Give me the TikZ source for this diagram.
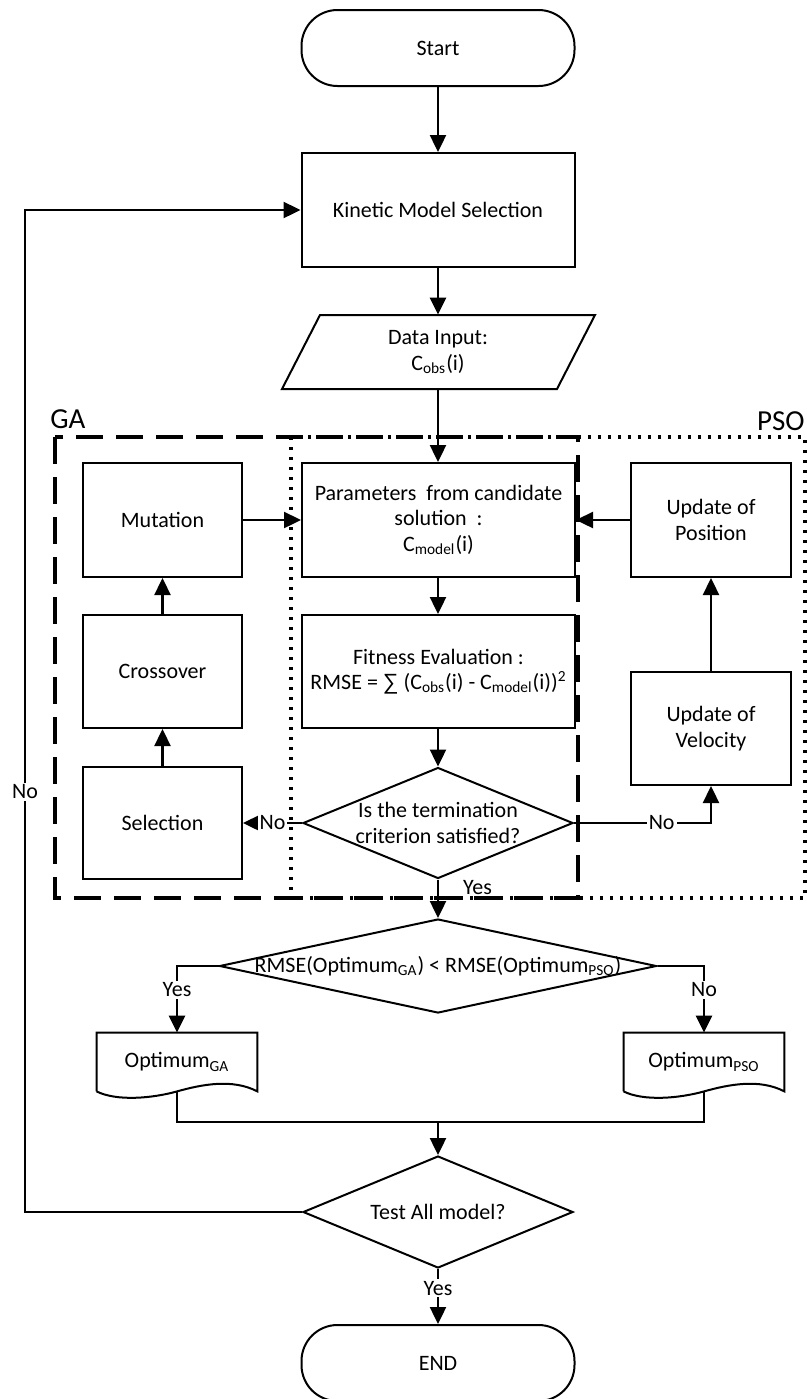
\documentclass[tikz,border=0pt]{standalone}
\usepackage{fontspec}
\setmainfont{Carlito}
\newfontfamily\symf{Liberation Sans}
\usetikzlibrary{arrows.meta,shapes.geometric}
\begin{document}
\begin{tikzpicture}[x=0.5pt,y=-0.5pt,
  font=\fontsize{11pt}{12.8pt}\selectfont,
  box/.style={draw, line width=1pt, rectangle, minimum width=136.5pt, minimum height=57pt, inner sep=0pt, align=center},
  sbox/.style={draw, line width=1pt, rectangle, minimum width=79.5pt, minimum height=57pt, inner sep=0pt, align=center},
  term/.style={draw, line width=1pt, rectangle, rounded corners=18pt, minimum width=136.5pt, minimum height=38pt, inner sep=0pt},
  dia/.style={draw, line width=1pt, diamond, inner sep=0pt},
  doc/.style={minimum width=80pt, minimum height=29pt, inner sep=0pt},
  conn/.style={line width=1.2pt, -{Triangle[length=8.5pt,width=8pt]}},
  wire/.style={line width=1.2pt},
  lbl/.style={fill=white, inner sep=1pt},
  region/.style={font=\fontsize{14.5pt}{17pt}\selectfont, inner sep=0pt},
]
\fill[white] (0,0) rectangle (807,1399);
\useasboundingbox (0,0) rectangle (807,1399);

% regions
\draw[line width=1.7pt, dash pattern=on 13.5pt off 6.5pt] (55,437) rectangle (578,898);
\draw[line width=1.7pt, dash pattern=on 1.5pt off 3.5pt] (291,437) rectangle (805,898);
\node[region, anchor=base west] (ga) at (50,428) {GA};
\node[region, anchor=base east] (pso) at (805,430) {PSO};

% main column
\node[term] (start) at (438,48) {Start};
\node[box] (kin) at (438,210) {Kinetic Model Selection};
\node[minimum width=120pt, minimum height=37pt, inner sep=0pt, align=center] (data) at (438,352) {Data Input:\\C\textsubscript{obs}(i)};
\draw[line width=1pt] (320,315) -- (595,315) -- (557,389) -- (282,389) -- cycle;
\node[box] (par) at (438.5,520) {Parameters\ \ from candidate\\solution\ \ :\\C\textsubscript{model}(i)};
\node[box, minimum height=56.5pt] (fit) at (438.5,671.5) {Fitness Evaluation :\\RMSE = {\symf ∑} (C\textsubscript{obs}(i) - C\textsubscript{model}(i))\textsuperscript{2}};
\node[dia, minimum width=135pt, minimum height=55.5pt] (dec) at (438,823) {};
\node[align=center] (dect) at (dec) {Is the termination\\criterion satisfied?};

% GA column
\node[sbox] (mut) at (162.5,520) {Mutation};
\node[sbox, minimum height=56.5pt] (cross) at (162.5,671.5) {Crossover};
\node[sbox, minimum height=56pt] (sel) at (162.5,823) {Selection};

% PSO column
\node[sbox, minimum width=80pt] (pos) at (711,520) {Update of\\Position};
\node[sbox, minimum width=80pt, minimum height=56.5pt] (vel) at (711,728.5) {Update of\\Velocity};

% comparison
\node[dia, minimum width=218.5pt, minimum height=47pt] (rmse) at (438,966) {};
\node (rmset) at (rmse) {RMSE(Optimum\textsubscript{GA}) < RMSE(Optimum\textsubscript{PSO})};

\node[doc] (dga) at (177,1062) {Optimum\textsubscript{GA}};
\node[doc] (dpso) at (704,1062) {Optimum\textsubscript{PSO}};
\foreach \d in {dga,dpso}{
  \draw[line width=1pt] (\d.south west) -- (\d.north west) -- (\d.north east) -- (\d.south east)
    .. controls +(-25,-13) and +(25,-7) .. (\d.south)
    .. controls +(-25,7) and +(20,10) .. (\d.south west);
}

\node[dia, minimum width=135pt, minimum height=56pt] (test) at (438,1212) {};
\node (testt) at (test) {Test All model?};
\node[term] (end) at (438,1363) {END};

% connectors
\draw[conn] (start) -- (kin);
\draw[conn] (kin) -- (data.north);
\draw[conn] (data.south) -- (par.north -| data.south);
\draw[conn] (par.south -| dec.north) -- (fit.north -| dec.north);
\draw[conn] (fit.south -| dec.north) -- (dec.north);
\draw[conn] (dec.west) -- node[lbl]{No} (sel.east);
\draw[conn] (sel) -- (cross);
\draw[conn] (cross) -- (mut);
\draw[conn] (mut.east) -- (par.west |- mut.east);
\draw[conn] (dec.east) -| node[lbl, pos=0.32]{No} (vel.south);
\draw[conn] (vel) -- (pos);
\draw[conn] (pos.west) -- (par.east |- pos.west);
\draw[conn] (dec.south) -- node[pos=0.2, anchor=west, inner sep=0pt, xshift=12pt]{Yes} (rmse.north);
\draw[conn] (rmse.west) -| node[lbl, pos=0.68]{Yes} (dga.north);
\draw[conn] (rmse.east) -| node[lbl, pos=0.68]{No} (dpso.north);
\coordinate (mrg) at (438,1122);
\draw[wire] (dga.south) |- (mrg) -| (dpso.south);
\draw[conn] (mrg) -- (test.north);
\draw[conn] (test.south) -- node[lbl, pos=0.35]{Yes} (end.north);
\coordinate (fb) at (25,792);
\draw[conn] (test.west) -| (fb) |- (kin.west);
\node[lbl] (nofb) at (fb) {No};
\end{tikzpicture}
\end{document}
